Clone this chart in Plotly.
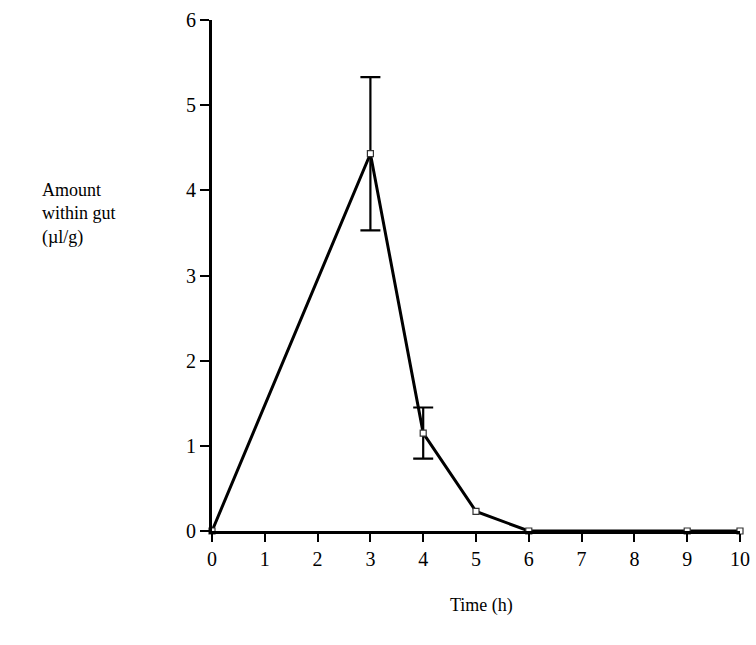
import plotly.graph_objects as go

time_h = [0, 3, 4, 5, 6, 9, 10]
amount = [0.0, 4.43, 1.15, 0.23, 0.0, 0.0, 0.0]
err_x = [3, 4]
err_y = [4.43, 1.15]
err = [0.90, 0.30]
x_ticks = list(range(0, 11))
y_ticks = list(range(0, 7))

fig = go.Figure()
fig.add_trace(go.Scatter(
    x=err_x, y=err_y, mode="markers",
    marker=dict(size=1, color="rgba(0,0,0,0)"),
    error_y=dict(type="data", array=err, visible=True, color="black",
                 thickness=2.2, width=10),
    cliponaxis=False, showlegend=False, hoverinfo="skip",
))
fig.add_trace(go.Scatter(
    x=time_h, y=amount, mode="lines+markers",
    line=dict(color="black", width=3),
    marker=dict(symbol="square", size=6, color="white",
                line=dict(color="#333", width=1.2)),
    cliponaxis=False, showlegend=False,
))

font = "Liberation Serif, Times New Roman, serif"
fig.update_layout(
    width=756, height=645,
    margin=dict(l=212, r=16, t=20, b=114, autoexpand=False),
    paper_bgcolor="white", plot_bgcolor="white",
    font=dict(family=font, size=20, color="black"),
    xaxis=dict(range=[0, 10], tickvals=x_ticks, ticks="outside", ticklen=8,
               tickwidth=2, tickcolor="black", showline=True, linecolor="black",
               linewidth=2.5, showgrid=False, zeroline=False, automargin=False),
    yaxis=dict(range=[0, 6], tickvals=y_ticks, ticks="outside", ticklen=9,
               tickwidth=2, tickcolor="black", showline=True, linecolor="black",
               linewidth=3, showgrid=False, zeroline=False, automargin=False),
    annotations=[
        dict(text="Amount<br>within gut<br>(µl/g)", xref="paper", yref="paper",
             x=-0.325, y=0.69, xanchor="left", yanchor="top", align="left",
             showarrow=False, font=dict(family=font, size=18)),
        dict(text="Time (h)", xref="paper", yref="paper",
             x=0.51, y=-0.145, xanchor="center", yanchor="middle",
             showarrow=False, font=dict(family=font, size=18)),
    ],
)
fig.write_html("out.html")
